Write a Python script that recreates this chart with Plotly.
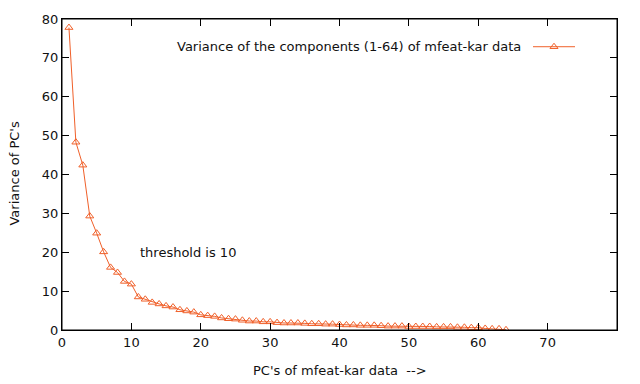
import plotly.graph_objects as go

# variance of each principal component
components = list(range(1, 65))
variance = [
    77.8, 48.3, 42.4, 29.3, 24.9, 20.1, 16.1, 14.8, 12.5, 11.8,
    8.5, 7.9, 7.1, 6.7, 6.2, 5.9, 5.2, 4.9, 4.6, 3.9,
    3.7, 3.5, 3.1, 2.9, 2.8, 2.5, 2.3, 2.3, 2.1, 2.1,
    1.9, 1.8, 1.8, 1.8, 1.7, 1.6, 1.6, 1.5, 1.5, 1.4,
    1.3, 1.3, 1.2, 1.2, 1.2, 1.1, 1.0, 1.0, 1.0, 0.9,
    0.9, 0.9, 0.9, 0.8, 0.8, 0.8, 0.7, 0.7, 0.6, 0.6,
    0.4, 0.3, 0.3, 0.05,
]
x_ticks = [0, 10, 20, 30, 40, 50, 60, 70]
y_ticks = [0, 10, 20, 30, 40, 50, 60, 70, 80]
series_name = "Variance of the components (1-64) of mfeat-kar data"
x_title = "PC's of mfeat-kar data  -->"
y_title = "Variance of PC's"
threshold_text = "threshold is 10"

color = "#f0602a"
font = dict(family="DejaVu Sans, Noto Sans, sans-serif", size=13, color="#111")

# plot area in pixels (gnuplot-like margins)
L, R, T, B = 62, 23, 16, 54
PW, PH = 640 - L - R, 384 - T - B

def px_x(p):
    return (p - L) / PW

def px_y(p):
    return 1 - (p - T) / PH

fig = go.Figure()
fig.add_trace(go.Scatter(
    x=components, y=variance, mode="lines+markers",
    line=dict(color=color, width=1),
    marker=dict(symbol="triangle-up-open", size=7, color=color, line=dict(width=1)),
    showlegend=False,
))

axis = dict(
    showgrid=False, zeroline=False, showline=True, linecolor="black", linewidth=1,
    mirror="allticks", ticks="inside", ticklen=7, tickwidth=1, tickcolor="black",
    tickmode="array", tickfont=font,
)
fig.update_xaxes(range=[0, 80], tickvals=x_ticks, **axis)
fig.update_yaxes(range=[0, 80], tickvals=y_ticks, **axis)

# frame around the plot
fig.add_shape(type="rect", xref="paper", yref="paper", x0=0, x1=1, y0=0, y1=1,
              line=dict(color="black", width=1), layer="above")

# gnuplot-style key: text then sample line with marker
key_y = px_y(44)
fig.add_annotation(x=px_x(523), y=key_y, xref="paper", yref="paper", showarrow=False,
                   text=series_name, font=font, xanchor="right", yanchor="middle")
fig.add_shape(type="line", xref="paper", yref="paper",
              x0=px_x(533), x1=px_x(575), y0=key_y, y1=key_y,
              line=dict(color=color, width=1))
fig.add_trace(go.Scatter(
    x=[px_x(554) * 80], y=[key_y * 80], mode="markers",
    marker=dict(symbol="triangle-up-open", size=7, color=color, line=dict(width=1)),
    showlegend=False, hoverinfo="skip",
))

fig.add_annotation(x=11, y=20, text=threshold_text, showarrow=False,
                   xanchor="left", yanchor="middle", font=font)
fig.add_annotation(x=0.5, y=px_y(371), xref="paper", yref="paper", text=x_title,
                   showarrow=False, xanchor="center", yanchor="middle", font=font)
fig.add_annotation(x=px_x(15), y=px_y(172), xref="paper", yref="paper", text=y_title,
                   showarrow=False, textangle=-90, xanchor="center", yanchor="middle",
                   font=font)

fig.update_layout(
    width=640, height=384,
    margin=dict(l=L, r=R, t=T, b=B),
    plot_bgcolor="white", paper_bgcolor="white",
    font=font,
)
fig.write_html("out.html", config={"displayModeBar": False},
               post_script="document.body.style.margin='0';")
